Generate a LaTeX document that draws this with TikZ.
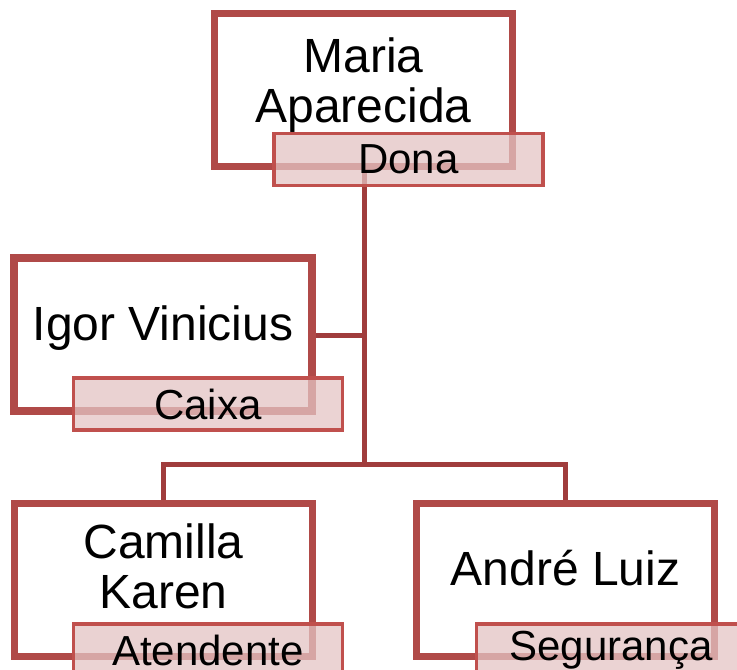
\documentclass[tikz,border=0pt]{standalone}
\usepackage{fontspec}
\setmainfont{Liberation Sans}
\usetikzlibrary{positioning,shadows}

\definecolor{boxred}{RGB}{176,74,72}
\definecolor{linered}{RGB}{160,60,60}
\definecolor{rolered}{RGB}{192,80,77}
\definecolor{rolefill}{RGB}{228,196,196}

\begin{document}
\begin{tikzpicture}[x=1pt, y=-1pt,
    person/.style={rectangle, draw=boxred, line width=7.5pt, fill=white, minimum width=298pt, minimum height=153pt, inner sep=0pt,
      drop shadow={shadow xshift=1pt, shadow yshift=-3pt, opacity=0.25, fill=black!60}},
    role/.style={rectangle, draw=rolered, line width=3.5pt, fill=rolefill, fill opacity=0.75, text opacity=1, minimum width=269pt, minimum height=52pt, inner sep=0pt,
      font=\fontsize{42}{44}\selectfont},
    persontext/.style={align=center, inner sep=0pt, anchor=base, font=\fontsize{48}{50}\selectfont},
    link/.style={draw=linered, line width=5pt}]
    \useasboundingbox (0,0) rectangle (737,670);

    % 連結点
    \coordinate (bus) at (364, 464);

    % エッジ
    \draw[link] (364, 170) -- (bus);
    \draw[link] (bus) -| (163.5, 500);
    \draw[link] (bus) -| (565.5, 500);
    \draw[link] (316, 335) -- (364, 335);

    % 人物の枠
    \node[person] (maria) at (363.5, 90) {};
    \node[person] (igor) at (163, 334.5) {};
    \node[person] (camilla) at (163.5, 580) {};
    \node[person] (andre) at (565.5, 580) {};

    % 名前
    \node[persontext] (mariaN) at (363.5, 122) {Maria\\Aparecida};
    \node[persontext] (igorN) at (163, 340) {Igor Vinicius};
    \node[persontext] (camillaN) at (163.5, 608) {Camilla\\Karen};
    \node[persontext] (andreN) at (565.5, 585) {André Luiz};

    % 役職
    \node[role] (dona) at (408.5, 159.5) {Dona};
    \node[role] (caixa) at (208, 404) {Caixa};
    \node[role] (atendente) at (208, 650) {Atendente};
    \node[role] (seguranca) at (611, 650) {Segurança};
\end{tikzpicture}
\end{document}
